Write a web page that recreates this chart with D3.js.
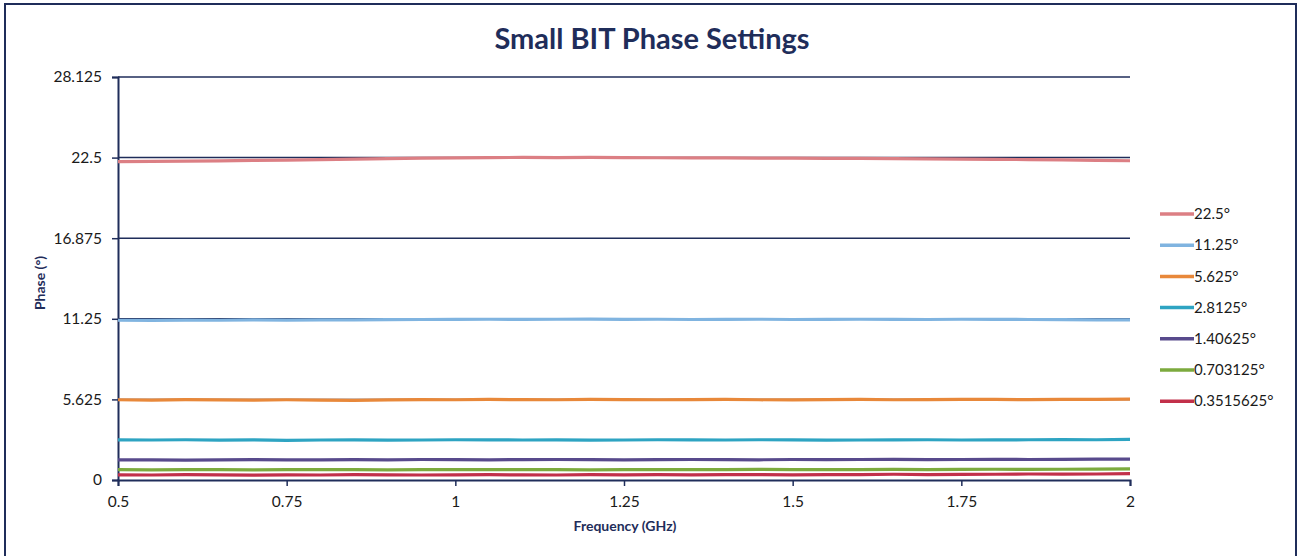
<!DOCTYPE html>
<html><head><meta charset="utf-8">
<script src="https://cdn.jsdelivr.net/npm/d3@7"></script>
<style>body{margin:0;background:#fff;}svg{display:block;font-family:Lato,"Open Sans",sans-serif;}</style>
</head><body><svg id="c" width="1299" height="556"></svg>
<script>
const freq = [0.5,0.55,0.6,0.65,0.7,0.75,0.8,0.85,0.9,0.95,1.0,1.05,1.1,1.15,1.2,1.25,1.3,1.35,1.4,1.45,1.5,1.55,1.6,1.65,1.7,1.75,1.8,1.85,1.9,1.95,2.0];
const seriesNames = ["22.5°","11.25°","5.625°","2.8125°","1.40625°","0.703125°","0.3515625°"];
const seriesColors = ["#dc7f84","#80b4e0","#e8883a","#2ea4c2","#584a8c","#7caa3e","#c2304a"];
const s225 = [22.22,22.24,22.25,22.27,22.30,22.33,22.36,22.40,22.43,22.46,22.48,22.50,22.51,22.50,22.51,22.50,22.49,22.48,22.48,22.47,22.46,22.45,22.44,22.43,22.41,22.40,22.38,22.36,22.34,22.31,22.28];
const s1125 = [11.15,11.14,11.16,11.15,11.17,11.16,11.18,11.17,11.19,11.20,11.21,11.22,11.21,11.22,11.23,11.21,11.22,11.20,11.21,11.22,11.20,11.21,11.22,11.21,11.20,11.22,11.21,11.20,11.19,11.18,11.17];
const s5625 = [5.60,5.58,5.61,5.59,5.57,5.60,5.58,5.56,5.59,5.61,5.60,5.62,5.61,5.60,5.62,5.61,5.60,5.61,5.62,5.60,5.59,5.61,5.62,5.60,5.61,5.63,5.62,5.61,5.62,5.63,5.64];
const s28125 = [2.80,2.79,2.81,2.78,2.80,2.77,2.79,2.80,2.78,2.79,2.81,2.80,2.79,2.80,2.78,2.79,2.81,2.80,2.79,2.81,2.80,2.78,2.79,2.80,2.81,2.79,2.80,2.81,2.82,2.81,2.83];
const s140625 = [1.40,1.41,1.39,1.40,1.42,1.41,1.40,1.42,1.41,1.43,1.42,1.41,1.42,1.43,1.42,1.41,1.42,1.43,1.42,1.41,1.43,1.42,1.43,1.44,1.42,1.43,1.44,1.43,1.44,1.45,1.46];
const s0703 = [0.72,0.71,0.73,0.72,0.71,0.72,0.73,0.72,0.71,0.72,0.73,0.72,0.73,0.72,0.71,0.72,0.73,0.72,0.73,0.74,0.73,0.72,0.73,0.74,0.73,0.74,0.75,0.74,0.75,0.76,0.77];
const s0351 = [0.36,0.35,0.37,0.36,0.34,0.36,0.35,0.37,0.36,0.35,0.36,0.37,0.36,0.35,0.37,0.36,0.38,0.36,0.37,0.38,0.36,0.37,0.38,0.40,0.38,0.39,0.40,0.42,0.41,0.42,0.44];
const yTicks = [0,5.625,11.25,16.875,22.5,28.125];
const yTickLabels = ["0","5.625","11.25","16.875","22.5","28.125"];
const xTicks = [0.5,0.75,1,1.25,1.5,1.75,2];
const xTickLabels = ["0.5","0.75","1","1.25","1.5","1.75","2"];

const allSeries = [s225,s1125,s5625,s28125,s140625,s0703,s0351];
const navy = "#1f2d5a";
const svg = d3.select("#c");
const x = d3.scaleLinear().domain([0.5,2]).range([118,1130]);
const y = d3.scaleLinear().domain([0,28.125]).range([480,77]);

svg.append("rect").attr("x",5).attr("y",4).attr("width",1291).attr("height",560)
  .attr("fill","none").attr("stroke",navy).attr("stroke-width",2);

svg.append("text").attr("x",652).attr("y",49).attr("text-anchor","middle")
  .attr("font-size",29).attr("font-weight","bold").attr("fill",navy).text("Small BIT Phase Settings");

// grid
svg.append("g").selectAll("line").data(yTicks.filter(d=>d>0)).join("line")
  .attr("x1",x(0.5)).attr("x2",x(2)).attr("y1",d=>y(d)).attr("y2",d=>y(d))
  .attr("stroke",navy).attr("stroke-width",1.5);

const yAxis = d3.axisLeft(y).tickValues(yTicks).tickFormat((d,i)=>yTickLabels[i]).tickSize(6).tickPadding(10);
const gy = svg.append("g").attr("transform",`translate(${x(0.5)},0)`).call(yAxis);
const xAxis = d3.axisBottom(x).tickValues(xTicks).tickFormat((d,i)=>xTickLabels[i]).tickSize(6).tickPadding(10);
const gx = svg.append("g").attr("transform",`translate(0,${y(0)})`).call(xAxis);
[gx,gy].forEach(g=>{
  g.select(".domain").attr("stroke",navy).attr("stroke-width",2);
  g.selectAll(".tick line").attr("stroke",navy).attr("stroke-width",1.5);
  g.selectAll(".tick text").attr("fill","#1a1a1a").attr("font-size",15.5).attr("font-family","Lato,sans-serif");
});

const line = d3.line().x((d,i)=>x(freq[i])).y(d=>y(d)).curve(d3.curveLinear);
svg.append("g").selectAll("path").data(allSeries.slice().reverse()).join("path")
  .attr("d",d=>line(d)).attr("fill","none")
  .attr("stroke",(d,i)=>seriesColors[allSeries.length-1-i]).attr("stroke-width",3.2).attr("stroke-linejoin","round");

svg.append("text").attr("x",625).attr("y",531).attr("text-anchor","middle")
  .attr("font-size",14).attr("font-weight","bold").attr("fill",navy).text("Frequency (GHz)");
svg.append("text").attr("transform","translate(45,283) rotate(-90)").attr("text-anchor","middle")
  .attr("font-size",14).attr("font-weight","bold").attr("fill",navy).text("Phase (°)");

const lg = svg.append("g").selectAll("g").data(seriesNames).join("g")
  .attr("transform",(d,i)=>`translate(1160,${214+i*31.2})`);
lg.append("line").attr("x1",0).attr("x2",34).attr("stroke",(d,i)=>seriesColors[i]).attr("stroke-width",3.5);
lg.append("text").attr("x",34).attr("dy","0.35em").attr("font-size",15).attr("fill","#1a1a1a").text(d=>d);
</script></body></html>
